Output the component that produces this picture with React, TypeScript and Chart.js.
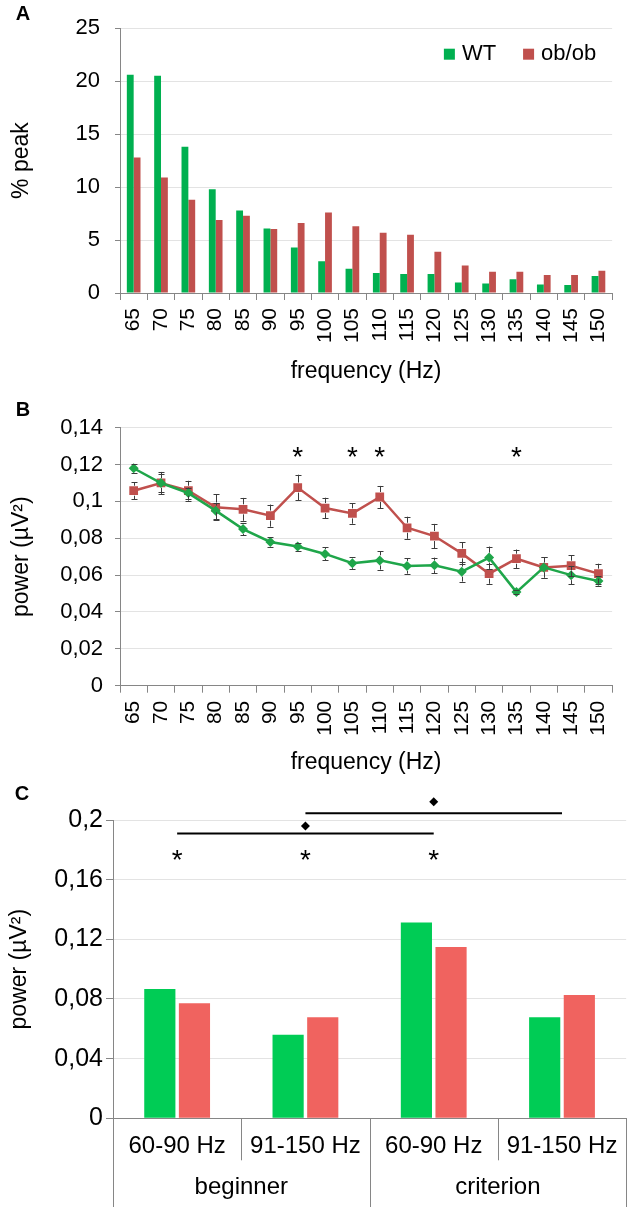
import React, { useEffect, useRef } from 'react';
import { Chart, registerables } from 'chart.js';

Chart.register(...registerables);

// ---------- data ----------
const freqLabels = ['65', '70', '75', '80', '85', '90', '95', '100', '105', '110', '115', '120', '125', '130', '135', '140', '145', '150'];

// Panel A: % peak
const peakWT = [20.6, 20.5, 13.8, 9.8, 7.8, 6.1, 4.3, 3.0, 2.3, 1.9, 1.8, 1.8, 1.0, 0.9, 1.3, 0.8, 0.75, 1.6];
const peakOb = [12.8, 10.9, 8.8, 6.9, 7.3, 6.05, 6.6, 7.6, 6.3, 5.7, 5.5, 3.9, 2.6, 2.0, 2.0, 1.7, 1.7, 2.1];

// Panel B: power (µV²) with SEM
const powerWT = [0.118, 0.110, 0.1045, 0.095, 0.085, 0.078, 0.0755, 0.0715, 0.0665, 0.068, 0.065, 0.0653, 0.0619, 0.0695, 0.0508, 0.0642, 0.060, 0.0568];
const errWT = [0.0024, 0.005, 0.003, 0.0043, 0.0033, 0.0027, 0.0022, 0.0035, 0.0033, 0.005, 0.0042, 0.0042, 0.0054, 0.006, 0.001, 0.0055, 0.005, 0.0027];
const powerOb = [0.1058, 0.110, 0.1058, 0.0968, 0.0957, 0.0923, 0.1075, 0.0964, 0.0935, 0.1024, 0.0857, 0.0812, 0.0718, 0.0608, 0.0689, 0.0642, 0.0651, 0.0608];
const errOb = [0.0045, 0.006, 0.0054, 0.007, 0.0062, 0.006, 0.007, 0.0056, 0.0056, 0.006, 0.006, 0.0066, 0.006, 0.0055, 0.005, 0.0055, 0.0056, 0.0054];
const sigIndexB = [6, 8, 9, 14];
const sigLevelB = 0.128;

// Panel C: band power
const bandLabels = ['60-90 Hz', '91-150 Hz', '60-90 Hz', '91-150 Hz'];
const bandGroup = [0, 0, 1, 1];
const groupLabels = ['beginner', 'criterion'];
const bandWT = [0.0867, 0.0561, 0.1312, 0.0677];
const bandOb = [0.0771, 0.0677, 0.1149, 0.0827];
const sigStarC = [0, 1, 2];
const sigStarLevelC = 0.178;
const compLinesC = [
  { from: 0, to: 2, level: 0.191, mark: 0.196 },
  { from: 1, to: 3, level: 0.2045, mark: 0.2123 },
];

// ---------- styles ----------
const FONT = '"Liberation Sans", Arial, sans-serif';
const AXIS = '#868686';
const GRID = '#e3e3e3';
const GREEN_A = '#00B050';
const RED_A = '#C0504D';
const GREEN_B = '#1FA64A';
const RED_B = '#C0504D';
const GREEN_C = '#00CC55';
const RED_C = '#F0635F';

Chart.defaults.font.family = FONT;
Chart.defaults.font.size = 22;
Chart.defaults.color = '#000';

const fmtComma = (v: any) => String(Number(Number(v).toFixed(3))).replace('.', ',');

const panelLetter = (text: string, x: number, y: number) => ({
  id: 'panelLetter' + text,
  afterDraw(chart: any) {
    const ctx = chart.ctx;
    ctx.save();
    ctx.font = 'bold 20px ' + FONT;
    ctx.fillStyle = '#000';
    ctx.textAlign = 'center';
    ctx.textBaseline = 'middle';
    ctx.fillText(text, x, y);
    ctx.restore();
  },
});

const inlineLegend = {
  id: 'inlineLegend',
  afterDraw(chart: any) {
    const { ctx, chartArea } = chart;
    ctx.save();
    ctx.font = '22px ' + FONT;
    ctx.textBaseline = 'middle';
    ctx.textAlign = 'left';
    const box = 11, gapText = 7, gapItems = 27;
    const items = chart.data.datasets.map((d: any) => ({ text: d.label, color: d.backgroundColor, w: ctx.measureText(d.label).width }));
    const total = items.reduce((s: number, it: any) => s + box + gapText + it.w, 0) + gapItems * (items.length - 1);
    let x = chartArea.right - 16 - total;
    const cy = chartArea.top + 26;
    items.forEach((it: any) => {
      ctx.fillStyle = it.color;
      ctx.fillRect(x, cy - box / 2, box, box);
      x += box + gapText;
      ctx.fillStyle = '#000';
      ctx.fillText(it.text, x, cy);
      x += it.w + gapItems;
    });
    ctx.restore();
  },
};

const drawStar = (ctx: any, x: number, y: number) => {
  ctx.save();
  ctx.font = '28px ' + FONT;
  ctx.fillStyle = '#000';
  ctx.textAlign = 'center';
  ctx.textBaseline = 'alphabetic';
  ctx.fillText('*', x, y + 0.58 * 28);
  ctx.restore();
};

const errorBars = {
  id: 'errorBars',
  afterDatasetsDraw(chart: any) {
    const { ctx, scales } = chart;
    const xs = scales.x, ys = scales.y;
    const sets: [number[], number[]][] = [[powerWT, errWT], [powerOb, errOb]];
    ctx.save();
    ctx.strokeStyle = '#3c3c3c';
    ctx.lineWidth = 1;
    sets.forEach(([vals, errs]) => {
      vals.forEach((v, i) => {
        const px = Math.round(xs.getPixelForValue(i)) + 0.5;
        const py = ys.getPixelForValue(v);
        const top = ys.getPixelForValue(v + errs[i]);
        const bot = ys.getPixelForValue(v - errs[i]);
        ctx.beginPath();
        if (py - top > 5) { ctx.moveTo(px, top); ctx.lineTo(px, py - 5); }
        if (bot - py > 5) { ctx.moveTo(px, py + 5); ctx.lineTo(px, bot); }
        ctx.moveTo(px - 3, Math.round(top) + 0.5); ctx.lineTo(px + 3, Math.round(top) + 0.5);
        ctx.moveTo(px - 3, Math.round(bot) + 0.5); ctx.lineTo(px + 3, Math.round(bot) + 0.5);
        ctx.stroke();
      });
    });
    ctx.restore();
  },
  afterDraw(chart: any) {
    const xs = chart.scales.x, ys = chart.scales.y;
    sigIndexB.forEach((i) => drawStar(chart.ctx, xs.getPixelForValue(i), ys.getPixelForValue(sigLevelB)));
  },
};

const panelCDecor = {
  id: 'panelCDecor',
  afterDraw(chart: any) {
    const { ctx, chartArea, scales } = chart;
    const xs = scales.x, ys = scales.y;
    const step = xs.getPixelForValue(1) - xs.getPixelForValue(0);
    ctx.save();
    // separators
    ctx.strokeStyle = AXIS;
    ctx.lineWidth = 1;
    const n = bandLabels.length;
    for (let i = 0; i <= n; i++) {
      const bx = Math.round(xs.getPixelForValue(0) - step / 2 + i * step) + 0.5;
      const long = i === 0 || i === n || bandGroup[i - 1] !== bandGroup[i];
      ctx.beginPath();
      ctx.moveTo(bx, chartArea.bottom);
      ctx.lineTo(bx, long ? chart.height : chartArea.bottom + 42);
      ctx.stroke();
    }
    // comparison lines
    ctx.strokeStyle = '#000';
    ctx.fillStyle = '#000';
    ctx.lineWidth = 2;
    compLinesC.forEach((c) => {
      const y = ys.getPixelForValue(c.level);
      ctx.beginPath();
      ctx.moveTo(xs.getPixelForValue(c.from), y);
      ctx.lineTo(xs.getPixelForValue(c.to), y);
      ctx.stroke();
      const mx = (xs.getPixelForValue(c.from) + xs.getPixelForValue(c.to)) / 2;
      const my = ys.getPixelForValue(c.mark);
      const r = 4.5;
      ctx.beginPath();
      ctx.moveTo(mx, my - r);
      ctx.lineTo(mx + r, my);
      ctx.lineTo(mx, my + r);
      ctx.lineTo(mx - r, my);
      ctx.closePath();
      ctx.fill();
    });
    ctx.restore();
    sigStarC.forEach((i) => drawStar(ctx, xs.getPixelForValue(i), ys.getPixelForValue(sigStarLevelC)));
  },
};

const yGrid = { color: GRID, tickLength: 5, tickColor: AXIS };
const xGridCat = { offset: true, drawOnChartArea: false, tickLength: 7, tickColor: AXIS };

export default function App() {
  const refA = useRef<HTMLCanvasElement>(null);
  const refB = useRef<HTMLCanvasElement>(null);
  const refC = useRef<HTMLCanvasElement>(null);

  useEffect(() => {
    const chartA = new Chart(refA.current as HTMLCanvasElement, {
      type: 'bar',
      data: {
        labels: freqLabels,
        datasets: [
          { label: 'WT', data: peakWT, backgroundColor: GREEN_A, categoryPercentage: 0.5, barPercentage: 1 },
          { label: 'ob/ob', data: peakOb, backgroundColor: RED_A, categoryPercentage: 0.5, barPercentage: 1 },
        ],
      },
      options: {
        responsive: false,
        animation: false,
        events: [],
        layout: { padding: { left: 0, right: 12, top: 15, bottom: 12 } },
        plugins: { legend: { display: false }, tooltip: { enabled: false } },
        scales: {
          x: {
            grid: xGridCat,
            border: { color: AXIS },
            ticks: { autoSkip: false, minRotation: 90, maxRotation: 90, padding: 8, font: { size: 21 } },
            title: { display: true, text: 'frequency (Hz)', font: { size: 23 }, padding: { top: 0, bottom: 3 } },
            afterFit: (s: any) => { s.height = 95; },
          },
          y: {
            min: 0,
            max: 25,
            ticks: { stepSize: 5, padding: 15 },
            grid: yGrid,
            border: { color: AXIS },
            title: { display: true, text: '% peak', font: { size: 23 }, padding: { top: 8, bottom: 0 } },
            afterFit: (s: any) => { s.width = 120; },
          },
        },
      } as any,
      plugins: [panelLetter('A', 23, 14), inlineLegend],
    });

    const chartB = new Chart(refB.current as HTMLCanvasElement, {
      type: 'line',
      data: {
        labels: freqLabels,
        datasets: [
          {
            label: 'WT', data: powerWT, borderColor: GREEN_B, backgroundColor: GREEN_B, borderWidth: 2.5,
            pointStyle: 'rectRot', pointRadius: 5, pointBorderWidth: 0, tension: 0,
          },
          {
            label: 'ob/ob', data: powerOb, borderColor: RED_B, backgroundColor: RED_B, borderWidth: 2.5,
            pointStyle: 'rect', pointRadius: 6.2, pointBorderWidth: 0, tension: 0,
          },
        ],
      },
      options: {
        responsive: false,
        animation: false,
        events: [],
        layout: { padding: { left: 0, right: 12, top: 27.7, bottom: 0.3 } },
        plugins: { legend: { display: false }, tooltip: { enabled: false } },
        scales: {
          x: {
            offset: true,
            grid: xGridCat,
            border: { color: AXIS },
            ticks: { autoSkip: false, minRotation: 90, maxRotation: 90, padding: 8, font: { size: 21 } },
            title: { display: true, text: 'frequency (Hz)', font: { size: 23 }, padding: { top: 0, bottom: 3.5 } },
            afterFit: (s: any) => { s.height = 94; },
          },
          y: {
            min: 0,
            max: 0.14,
            ticks: { stepSize: 0.02, padding: 12, callback: fmtComma },
            grid: yGrid,
            border: { color: AXIS },
            title: { display: true, text: 'power (µV²)', font: { size: 23 }, padding: { top: 8, bottom: 0 } },
            afterFit: (s: any) => { s.width = 120; },
          },
        },
      } as any,
      plugins: [panelLetter('B', 23, 10), errorBars],
    });

    const chartC = new Chart(refC.current as HTMLCanvasElement, {
      type: 'bar',
      data: {
        labels: bandLabels,
        datasets: [
          { label: 'WT', data: bandWT, backgroundColor: GREEN_C, categoryPercentage: 0.54, barPercentage: 0.9 },
          { label: 'ob/ob', data: bandOb, backgroundColor: RED_C, categoryPercentage: 0.54, barPercentage: 0.9 },
        ],
      },
      options: {
        responsive: false,
        animation: false,
        events: [],
        layout: { padding: { left: 0, right: 5, top: 40, bottom: 0 } },
        plugins: { legend: { display: false }, tooltip: { enabled: false } },
        scales: {
          x: {
            weight: 0,
            grid: { display: false, drawTicks: false },
            border: { display: true, color: AXIS },
            ticks: { padding: 14, font: { size: 24 } },
            afterFit: (s: any) => { s.height = 45; },
          },
          x2: {
            type: 'category',
            position: 'bottom',
            weight: 1,
            labels: groupLabels,
            offset: true,
            grid: { display: false, drawTicks: false },
            border: { display: false },
            ticks: { padding: 10, font: { size: 24 } },
            afterFit: (s: any) => { s.height = 43.7; },
          },
          y: {
            min: 0,
            max: 0.2,
            ticks: { stepSize: 0.04, padding: 3, callback: fmtComma, font: { size: 25 } },
            grid: { color: GRID, tickLength: 7, tickColor: AXIS },
            border: { color: AXIS },
            title: { display: true, text: 'power (µV²)', font: { size: 23 }, padding: { top: 6, bottom: 0 } },
            afterFit: (s: any) => { s.width = 113; },
          },
        },
      } as any,
      plugins: [panelLetter('C', 22, 14), panelCDecor],
    });

    return () => {
      chartA.destroy();
      chartB.destroy();
      chartC.destroy();
    };
  }, []);

  return (
    <div style={{ position: 'absolute', left: 0, top: 0, width: 632, height: 1207, background: '#fff' }}>
      <canvas ref={refA} width={632} height={400} style={{ position: 'absolute', left: 0, top: 0 }} />
      <canvas ref={refB} width={632} height={380} style={{ position: 'absolute', left: 0, top: 400 }} />
      <canvas ref={refC} width={632} height={427} style={{ position: 'absolute', left: 0, top: 780 }} />
    </div>
  );
}
